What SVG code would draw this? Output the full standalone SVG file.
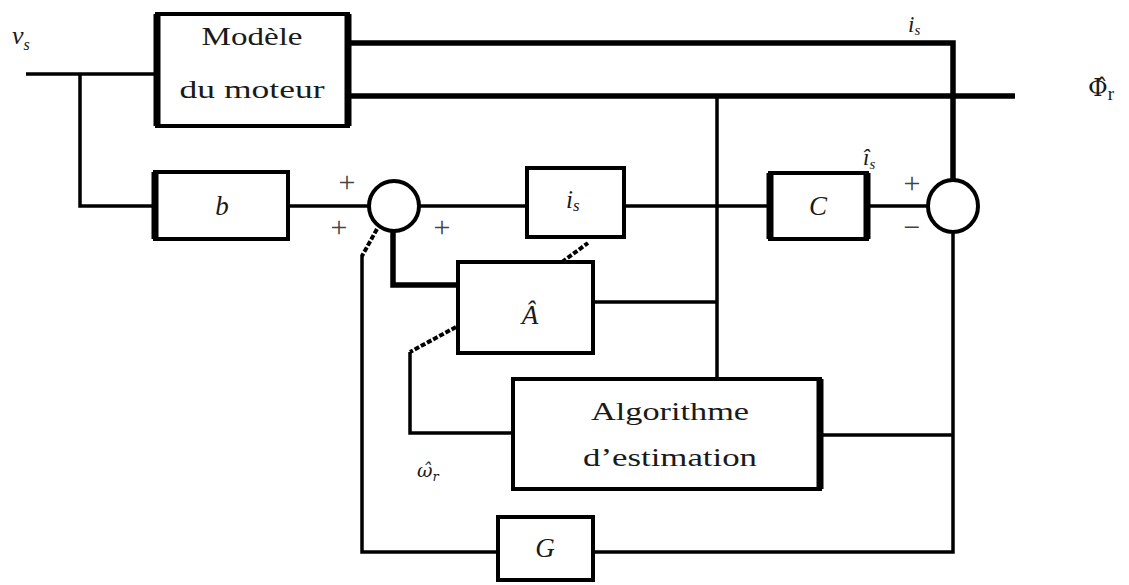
<svg xmlns="http://www.w3.org/2000/svg" width="1129" height="585" viewBox="0 0 1129 585">
  <style>
    .box { fill: #fff; stroke: #000; stroke-width: 4; }
    .edge { stroke: #000; stroke-width: 7; }
    .w { fill: none; stroke: #000; stroke-width: 3.5; stroke-linejoin: miter; }
    .wt { fill: none; stroke: #000; stroke-width: 5.5; }
    .dash { fill: none; stroke: #000; stroke-width: 4; stroke-dasharray: 5 2; }
    .sum { fill: #fff; stroke: #000; stroke-width: 4; }
    text { font-family: 'Liberation Serif', 'Times New Roman', Times, serif; fill: #1a1a1a; }
    .rm { font-size: 25px; }
    .it { font-style: italic; }
    .dv { font-family: 'DejaVu Serif', serif; }
    .sg { fill: #444; font-size: 30px; text-anchor: middle; }
  </style>

  <!-- connectors -->
  <g id="connectors">
    <!-- input v_s and branch to b -->
    <polyline class="w" points="26,74 157,74"/>
    <polyline class="w" points="80,74 80,206 153,206"/>
    <!-- model outputs -->
    <polyline class="wt" points="348,43 953,43 953,180"/>
    <polyline class="wt" points="348,96 1015,96"/>
    <!-- flux estimate tap -->
    <polyline class="w" points="717,96 717,378"/>
    <!-- forward path -->
    <polyline class="w" points="288,206 369,206"/>
    <polyline class="w" points="419,206 527,206"/>
    <polyline class="w" points="624,206 770,206"/>
    <polyline class="w" points="867,206 927,206"/>
    <!-- A feedback -->
    <polyline class="wt" points="393,231 393,285 458,285"/>
    <polyline class="w" points="593,302 717,302"/>
    <!-- estimation loop -->
    <polyline class="w" points="410,352 410,433 513,433"/>
    <polyline class="w" points="820,435 953,435"/>
    <polyline class="w" points="953,232 953,552 593,552"/>
    <!-- gain G loop -->
    <polyline class="w" points="362,255 362,552 498,552"/>
    <!-- adjustable parameter arrows -->
    <line class="dash" x1="377" y1="229" x2="362" y2="256"/>
    <line class="dash" x1="456" y1="327" x2="410" y2="352"/>
    <line class="dash" x1="562" y1="262" x2="588" y2="243"/>
  </g>

  <!-- motor model -->
  <g id="model">
    <rect class="box" x="157" y="14" width="191" height="112"/>
    <line class="edge" x1="157" y1="14" x2="157" y2="126"/>
    <line class="edge" x1="348" y1="14" x2="348" y2="126"/>
    <text class="rm" x="252" y="45" text-anchor="middle" textLength="101" lengthAdjust="spacingAndGlyphs">Modèle</text>
    <text class="rm" x="252" y="98" text-anchor="middle" textLength="145" lengthAdjust="spacingAndGlyphs">du moteur</text>
  </g>

  <!-- input gain b -->
  <g id="b">
    <rect class="box" x="155" y="172" width="133" height="67"/>
    <line class="edge" x1="155" y1="172" x2="155" y2="239"/>
    <text class="it" x="222" y="215" font-size="27" text-anchor="middle">b</text>
  </g>

  <!-- summing junction -->
  <g id="sum1">
    <circle class="sum" cx="394" cy="206" r="25"/>
    <text class="sg" x="347" y="192">+</text>
    <text class="sg" x="339" y="237">+</text>
    <text class="sg" x="442" y="237">+</text>
  </g>

  <!-- integrator -->
  <g id="integrator">
    <rect class="box" x="527" y="168" width="97" height="69"/>
    <text class="it" x="566" y="208" font-size="25">i<tspan font-size="17" dy="3">s</tspan></text>
  </g>

  <!-- output matrix C -->
  <g id="C">
    <rect class="box" x="770" y="173" width="97" height="66"/>
    <line class="edge" x1="770" y1="173" x2="770" y2="239"/>
    <line class="edge" x1="867" y1="173" x2="867" y2="239"/>
    <text class="it" x="818" y="215" font-size="27" text-anchor="middle">C</text>
    <text class="it" x="863" y="165" font-size="23">î<tspan font-size="15" dy="4">s</tspan></text>
  </g>

  <!-- error junction -->
  <g id="sum2">
    <ellipse class="sum" cx="953" cy="206" rx="25" ry="26"/>
    <text class="sg" x="912" y="193">+</text>
    <text class="sg" x="912" y="237">−</text>
  </g>

  <!-- estimated state matrix -->
  <g id="A">
    <rect class="box" x="458" y="262" width="135" height="91"/>
    <text class="it" x="530" y="324" font-size="27" text-anchor="middle">Â</text>
  </g>

  <!-- adaptation algorithm -->
  <g id="estimation">
    <rect class="box" x="513" y="379" width="307" height="110"/>
    <line class="edge" x1="820" y1="379" x2="820" y2="489"/>
    <text class="rm" x="670" y="420" font-size="26" text-anchor="middle" textLength="158" lengthAdjust="spacingAndGlyphs">Algorithme</text>
    <text class="rm" x="670" y="466" font-size="26" text-anchor="middle" textLength="174" lengthAdjust="spacingAndGlyphs">d’estimation</text>
  </g>

  <!-- observer gain -->
  <g id="G">
    <rect class="box" x="498" y="517" width="95" height="63"/>
    <text class="it" x="545" y="557" font-size="27" text-anchor="middle">G</text>
  </g>

  <!-- signal labels -->
  <g id="labels">
    <text class="it" x="12" y="44" font-size="26">v<tspan font-size="16" dy="6">s</tspan></text>
    <text class="it" x="908" y="32" font-size="23">i<tspan font-size="15" dy="3">s</tspan></text>
    <text class="it dv" x="417" y="477" font-size="19">ω̂<tspan font-size="13" dy="4">r</tspan></text>
    <text class="dv" x="1088" y="96" font-size="24" fill="#000">Φ̂<tspan font-family="'Liberation Serif', serif" font-size="19" dy="4">r</tspan></text>
  </g>
</svg>
